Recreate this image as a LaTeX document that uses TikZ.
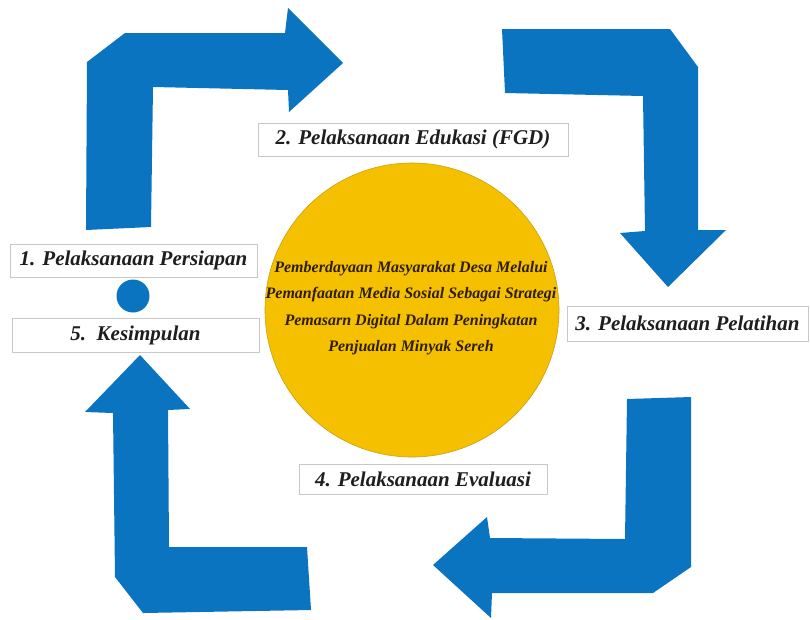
\documentclass[tikz,border=0pt]{standalone}
\usepackage{fontspec}
\setmainfont{Liberation Serif}
\definecolor{arrowblue}{RGB}{11,116,192}
\definecolor{sunyellow}{RGB}{245,192,0}
\definecolor{sunedge}{RGB}{200,160,20}
\definecolor{boxgray}{RGB}{200,200,200}
\definecolor{txtdark}{RGB}{30,30,30}
\definecolor{circtxt}{RGB}{45,30,5}
\tikzset{
  bigarrow/.style={fill=arrowblue, draw=none},
  labelbox/.style={draw=boxgray, line width=0.8pt, fill=white, inner sep=0pt,
    text=txtdark, font=\fontsize{21}{24}\selectfont\bfseries\itshape},
}
\begin{document}
\begin{tikzpicture}[x=1pt,y=-1pt]
\useasboundingbox (0,0) rectangle (810,619);
% arrow 1 (up then right)
\fill[bigarrow] (86,230) -- (87,62) -- (125,33) -- (285,33) -- (288,8) -- (343,63)
  -- (289,112) -- (288,90) -- (153,87) -- (151,227) -- cycle;
% arrow 2 (right then down)
\fill[bigarrow] (502,29) -- (670,29) -- (698,67) -- (698,230) -- (726,230) -- (668,287)
  -- (620,233) -- (645,231) -- (643,96) -- (505,93) -- cycle;
% arrow 3 (down then left)
\fill[bigarrow] (627,399) -- (691,397) -- (691,567) -- (653,593) -- (492,593) -- (491,618)
  -- (433,565) -- (487,517) -- (490,538) -- (625,539) -- cycle;
% arrow 4 (left then up)
\fill[bigarrow] (307,547) -- (311,610) -- (143,613) -- (115,577) -- (113,413) -- (85,412)
  -- (140,355) -- (190,409) -- (168,410) -- (169,547) -- cycle;
% small dot
\node[circle, fill=arrowblue, minimum size=33pt, inner sep=0pt] (dot) at (133,296) {};
% central circle
\node[circle, fill=sunyellow, draw=sunedge, line width=0.6pt, minimum size=294pt, inner sep=0pt] (core) at (412,310) {};
\node[align=center, text=circtxt, font=\fontsize{16}{26.5}\selectfont\bfseries\itshape] (coretext) at (411,308)
  {Pemberdayaan Masyarakat Desa Melalui\\Pemanfaatan Media Sosial Sebagai Strategi\\Pemasarn Digital Dalam Peningkatan\\Penjualan Minyak Sereh};
% labels
\node[labelbox, minimum width=247pt, minimum height=33pt] (l1) at (133.5,260.5) {1. Pelaksanaan Persiapan};
\node[labelbox, minimum width=310pt, minimum height=33pt] (l2) at (413,139.5) {2. Pelaksanaan Edukasi (FGD)};
\node[labelbox, minimum width=241pt, minimum height=35pt] (l3) at (687.5,323.5) {3. Pelaksanaan Pelatihan};
\node[labelbox, minimum width=248pt, minimum height=30pt] (l4) at (423,479) {4. Pelaksanaan Evaluasi};
\node[labelbox, minimum width=247pt, minimum height=34pt] (l5) at (135.5,335) {5.\ \ Kesimpulan};
\end{tikzpicture}
\end{document}
